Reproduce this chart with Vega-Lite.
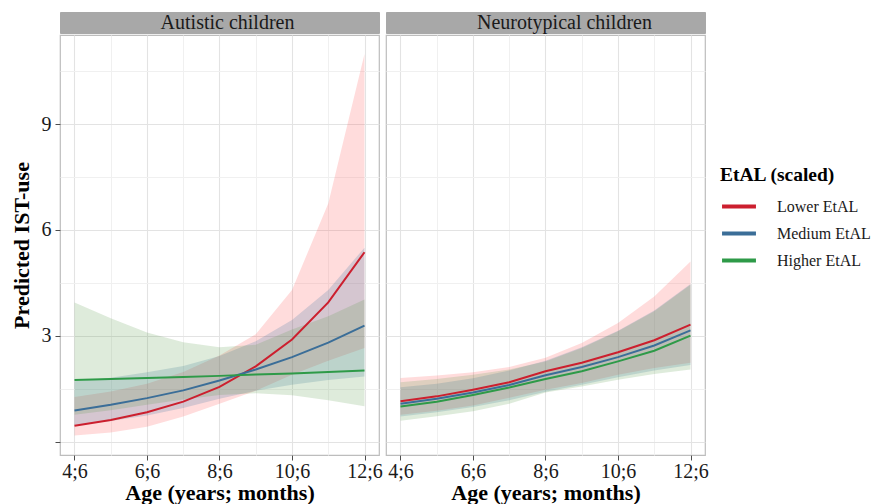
{
  "$schema": "https://vega.github.io/schema/vega-lite/v6.json",
  "padding": {"left": 9, "top": 11, "right": 0, "bottom": 0},
  "background": "white",
  "datasets": {
    "curves": [
      {"panel": "Autistic children", "group": "Lower EtAL", "age": 54, "fit": 0.46, "lo": 0.18, "hi": 1.27},
      {"panel": "Autistic children", "group": "Lower EtAL", "age": 66, "fit": 0.62, "lo": 0.27, "hi": 1.43},
      {"panel": "Autistic children", "group": "Lower EtAL", "age": 78, "fit": 0.84, "lo": 0.43, "hi": 1.65},
      {"panel": "Autistic children", "group": "Lower EtAL", "age": 90, "fit": 1.14, "lo": 0.72, "hi": 1.98},
      {"panel": "Autistic children", "group": "Lower EtAL", "age": 102, "fit": 1.56, "lo": 1.08, "hi": 2.45},
      {"panel": "Autistic children", "group": "Lower EtAL", "age": 114, "fit": 2.14, "lo": 1.45, "hi": 3.05},
      {"panel": "Autistic children", "group": "Lower EtAL", "age": 126, "fit": 2.90, "lo": 1.90, "hi": 4.30},
      {"panel": "Autistic children", "group": "Lower EtAL", "age": 138, "fit": 3.95, "lo": 2.30, "hi": 6.75},
      {"panel": "Autistic children", "group": "Lower EtAL", "age": 150, "fit": 5.37, "lo": 2.66, "hi": 10.98},
      {"panel": "Autistic children", "group": "Medium EtAL", "age": 54, "fit": 0.89, "lo": 0.48, "hi": 1.72},
      {"panel": "Autistic children", "group": "Medium EtAL", "age": 66, "fit": 1.05, "lo": 0.59, "hi": 1.82},
      {"panel": "Autistic children", "group": "Medium EtAL", "age": 78, "fit": 1.24, "lo": 0.75, "hi": 1.97},
      {"panel": "Autistic children", "group": "Medium EtAL", "age": 90, "fit": 1.46, "lo": 0.96, "hi": 2.15},
      {"panel": "Autistic children", "group": "Medium EtAL", "age": 102, "fit": 1.74, "lo": 1.22, "hi": 2.43},
      {"panel": "Autistic children", "group": "Medium EtAL", "age": 114, "fit": 2.05, "lo": 1.45, "hi": 2.85},
      {"panel": "Autistic children", "group": "Medium EtAL", "age": 126, "fit": 2.40, "lo": 1.62, "hi": 3.45},
      {"panel": "Autistic children", "group": "Medium EtAL", "age": 138, "fit": 2.81, "lo": 1.75, "hi": 4.30},
      {"panel": "Autistic children", "group": "Medium EtAL", "age": 150, "fit": 3.29, "lo": 1.85, "hi": 5.50},
      {"panel": "Autistic children", "group": "Higher EtAL", "age": 54, "fit": 1.75, "lo": 0.77, "hi": 3.95},
      {"panel": "Autistic children", "group": "Higher EtAL", "age": 66, "fit": 1.78, "lo": 0.90, "hi": 3.50},
      {"panel": "Autistic children", "group": "Higher EtAL", "age": 78, "fit": 1.81, "lo": 1.05, "hi": 3.10},
      {"panel": "Autistic children", "group": "Higher EtAL", "age": 90, "fit": 1.84, "lo": 1.20, "hi": 2.82},
      {"panel": "Autistic children", "group": "Higher EtAL", "age": 102, "fit": 1.87, "lo": 1.33, "hi": 2.68},
      {"panel": "Autistic children", "group": "Higher EtAL", "age": 114, "fit": 1.91, "lo": 1.38, "hi": 2.75},
      {"panel": "Autistic children", "group": "Higher EtAL", "age": 126, "fit": 1.94, "lo": 1.32, "hi": 3.18},
      {"panel": "Autistic children", "group": "Higher EtAL", "age": 138, "fit": 1.98, "lo": 1.18, "hi": 3.56},
      {"panel": "Autistic children", "group": "Higher EtAL", "age": 150, "fit": 2.02, "lo": 1.01, "hi": 4.03},
      {"panel": "Neurotypical children", "group": "Lower EtAL", "age": 54, "fit": 1.15, "lo": 0.77, "hi": 1.81},
      {"panel": "Neurotypical children", "group": "Lower EtAL", "age": 66, "fit": 1.29, "lo": 0.88, "hi": 1.88},
      {"panel": "Neurotypical children", "group": "Lower EtAL", "age": 78, "fit": 1.48, "lo": 1.03, "hi": 1.97},
      {"panel": "Neurotypical children", "group": "Lower EtAL", "age": 90, "fit": 1.69, "lo": 1.25, "hi": 2.12},
      {"panel": "Neurotypical children", "group": "Lower EtAL", "age": 102, "fit": 2.00, "lo": 1.48, "hi": 2.38},
      {"panel": "Neurotypical children", "group": "Lower EtAL", "age": 114, "fit": 2.24, "lo": 1.67, "hi": 2.80},
      {"panel": "Neurotypical children", "group": "Lower EtAL", "age": 126, "fit": 2.54, "lo": 1.90, "hi": 3.37},
      {"panel": "Neurotypical children", "group": "Lower EtAL", "age": 138, "fit": 2.88, "lo": 2.09, "hi": 4.12},
      {"panel": "Neurotypical children", "group": "Lower EtAL", "age": 150, "fit": 3.32, "lo": 2.24, "hi": 5.11},
      {"panel": "Neurotypical children", "group": "Medium EtAL", "age": 54, "fit": 1.08, "lo": 0.72, "hi": 1.55},
      {"panel": "Neurotypical children", "group": "Medium EtAL", "age": 66, "fit": 1.22, "lo": 0.84, "hi": 1.65},
      {"panel": "Neurotypical children", "group": "Medium EtAL", "age": 78, "fit": 1.40, "lo": 0.99, "hi": 1.80},
      {"panel": "Neurotypical children", "group": "Medium EtAL", "age": 90, "fit": 1.61, "lo": 1.18, "hi": 2.02},
      {"panel": "Neurotypical children", "group": "Medium EtAL", "age": 102, "fit": 1.89, "lo": 1.42, "hi": 2.30},
      {"panel": "Neurotypical children", "group": "Medium EtAL", "age": 114, "fit": 2.12, "lo": 1.62, "hi": 2.68},
      {"panel": "Neurotypical children", "group": "Medium EtAL", "age": 126, "fit": 2.40, "lo": 1.83, "hi": 3.15},
      {"panel": "Neurotypical children", "group": "Medium EtAL", "age": 138, "fit": 2.73, "lo": 2.02, "hi": 3.72},
      {"panel": "Neurotypical children", "group": "Medium EtAL", "age": 150, "fit": 3.16, "lo": 2.18, "hi": 4.47},
      {"panel": "Neurotypical children", "group": "Higher EtAL", "age": 54, "fit": 1.00, "lo": 0.60, "hi": 1.69},
      {"panel": "Neurotypical children", "group": "Higher EtAL", "age": 66, "fit": 1.14, "lo": 0.73, "hi": 1.78},
      {"panel": "Neurotypical children", "group": "Higher EtAL", "age": 78, "fit": 1.33, "lo": 0.87, "hi": 1.90},
      {"panel": "Neurotypical children", "group": "Higher EtAL", "age": 90, "fit": 1.54, "lo": 1.08, "hi": 2.05},
      {"panel": "Neurotypical children", "group": "Higher EtAL", "age": 102, "fit": 1.78, "lo": 1.40, "hi": 2.28},
      {"panel": "Neurotypical children", "group": "Higher EtAL", "age": 114, "fit": 2.00, "lo": 1.57, "hi": 2.66},
      {"panel": "Neurotypical children", "group": "Higher EtAL", "age": 126, "fit": 2.28, "lo": 1.76, "hi": 3.13},
      {"panel": "Neurotypical children", "group": "Higher EtAL", "age": 138, "fit": 2.58, "lo": 1.92, "hi": 3.70},
      {"panel": "Neurotypical children", "group": "Higher EtAL", "age": 150, "fit": 3.01, "lo": 2.05, "hi": 4.45}
    ]
  },
  "config": {
    "font": "Liberation Serif",
    "view": {"stroke": "#BDBDBD", "strokeWidth": 1.2},
    "axis": {
      "domain": false,
      "labelFont": "Liberation Serif",
      "titleFont": "Liberation Serif",
      "labelFontSize": 20,
      "labelColor": "#1a1a1a",
      "titleFontSize": 22,
      "titleFontWeight": "bold",
      "titleColor": "#000000",
      "tickColor": "#4d4d4d",
      "tickSize": 5,
      "gridColor": "#E6E6E6",
      "gridWidth": 1.1
    },
    "legend": {
      "titleFont": "Liberation Serif",
      "labelFont": "Liberation Serif",
      "titleFontSize": 19.5,
      "titleFontWeight": "bold",
      "labelFontSize": 16,
      "labelColor": "#1a1a1a",
      "symbolType": "stroke",
      "symbolStrokeWidth": 4,
      "symbolSize": 1150,
      "labelOffset": 19,
      "rowPadding": -3.5,
      "titlePadding": 2
    }
  },
  "spacing": 2,
  "hconcat": [
    {
      "spacing": 0,
      "vconcat": [
        {
          "width": 319,
          "height": 21,
          "view": {"fill": "#A8A8A8", "stroke": "#A8A8A8"},
          "data": {"values": [{"label": "Autistic children"}]},
          "mark": {"type": "text", "fontSize": 20, "font": "Liberation Serif", "color": "#1a1a1a", "dx": 8},
          "encoding": {"text": {"field": "label"}}
        },
        {
          "width": 319,
          "height": 420,
          "data": {"name": "curves"},
          "transform": [{"filter": "datum.panel === 'Autistic children'"}],
          "encoding": {
            "x": {
              "field": "age", "type": "quantitative",
              "scale": {"domain": [49.2, 154.8], "nice": false, "zero": false},
              "axis": {
                "title": "Age (years; months)",
                "values": [54, 66, 78, 90, 102, 114, 126, 138, 150],
                "labelExpr": "datum.value % 24 == 6 ? floor(datum.value / 12) + ';6' : ''",
                "tickOpacity": {"condition": {"test": "datum.value % 24 == 6", "value": 1}, "value": 0},
                "gridColor": {"condition": {"test": "datum.value % 24 == 6", "value": "#E3E3E3"}, "value": "#F0F0F0"},
                "labelPadding": 1,
                "titlePadding": 1
              }
            }
          },
          "layer": [
            {
              "mark": {"type": "area", "fillOpacity": 0.2},
              "encoding": {
                "y": {
                  "field": "lo", "type": "quantitative",
                  "scale": {"domain": [-0.37, 11.52], "nice": false, "zero": false},
                  "axis": {
                    "title": "Predicted IST-use",
                    "values": [0, 1.5, 3, 4.5, 6, 7.5, 9, 10.5],
                    "labelExpr": "datum.value % 3 == 0 && datum.value > 0 ? datum.label : ''",
                    "tickOpacity": {"condition": {"test": "datum.value % 3 == 0", "value": 1}, "value": 0},
                    "gridColor": {"condition": {"test": "datum.value % 3 == 0", "value": "#E3E3E3"}, "value": "#F0F0F0"},
                    "labelPadding": 4,
                    "titlePadding": 8
                  }
                },
                "y2": {"field": "hi"},
                "fill": {
                  "field": "group", "type": "nominal",
                  "scale": {"domain": ["Higher EtAL", "Lower EtAL", "Medium EtAL"], "range": ["#5A9A4A", "#FF5050", "#2E6EA0"]},
                  "legend": null
                },
                "detail": {"field": "group"}
              }
            },
            {
              "mark": {"type": "line", "strokeWidth": 2},
              "encoding": {
                "y": {"field": "fit", "type": "quantitative"},
                "color": {
                  "field": "group", "type": "nominal",
                  "scale": {"domain": ["Lower EtAL", "Medium EtAL", "Higher EtAL"], "range": ["#CC1F2E", "#3B6E98", "#2E9A48"]},
                  "title": "EtAL (scaled)",
                  "legend": {"orient": "none", "legendX": 660, "legendY": 154}
                }
              }
            }
          ]
        }
      ]
    },
    {
      "spacing": 0,
      "vconcat": [
        {
          "width": 319,
          "height": 21,
          "view": {"fill": "#A8A8A8", "stroke": "#A8A8A8"},
          "data": {"values": [{"label": "Neurotypical children"}]},
          "mark": {"type": "text", "fontSize": 20, "font": "Liberation Serif", "color": "#1a1a1a", "dx": 19},
          "encoding": {"text": {"field": "label"}}
        },
        {
          "width": 319,
          "height": 420,
          "data": {"name": "curves"},
          "transform": [{"filter": "datum.panel === 'Neurotypical children'"}],
          "encoding": {
            "x": {
              "field": "age", "type": "quantitative",
              "scale": {"domain": [49.2, 154.8], "nice": false, "zero": false},
              "axis": {
                "title": "Age (years; months)",
                "values": [54, 66, 78, 90, 102, 114, 126, 138, 150],
                "labelExpr": "datum.value % 24 == 6 ? floor(datum.value / 12) + ';6' : ''",
                "tickOpacity": {"condition": {"test": "datum.value % 24 == 6", "value": 1}, "value": 0},
                "gridColor": {"condition": {"test": "datum.value % 24 == 6", "value": "#E3E3E3"}, "value": "#F0F0F0"},
                "labelPadding": 1,
                "titlePadding": 1
              }
            }
          },
          "layer": [
            {
              "mark": {"type": "area", "fillOpacity": 0.2},
              "encoding": {
                "y": {
                  "field": "lo", "type": "quantitative",
                  "scale": {"domain": [-0.37, 11.52], "nice": false, "zero": false},
                  "axis": {
                    "title": null,
                    "labels": false,
                    "ticks": false,
                    "values": [0, 1.5, 3, 4.5, 6, 7.5, 9, 10.5],
                    "gridColor": {"condition": {"test": "datum.value % 3 == 0", "value": "#E3E3E3"}, "value": "#F0F0F0"}
                  }
                },
                "y2": {"field": "hi"},
                "fill": {
                  "field": "group", "type": "nominal",
                  "scale": {"domain": ["Higher EtAL", "Lower EtAL", "Medium EtAL"], "range": ["#5A9A4A", "#FF5050", "#2E6EA0"]},
                  "legend": null
                },
                "detail": {"field": "group"}
              }
            },
            {
              "mark": {"type": "line", "strokeWidth": 2},
              "encoding": {
                "y": {"field": "fit", "type": "quantitative"},
                "color": {
                  "field": "group", "type": "nominal",
                  "scale": {"domain": ["Lower EtAL", "Medium EtAL", "Higher EtAL"], "range": ["#CC1F2E", "#3B6E98", "#2E9A48"]},
                  "title": "EtAL (scaled)",
                  "legend": {"orient": "none", "legendX": 660, "legendY": 154}
                }
              }
            }
          ]
        }
      ]
    }
  ]
}
